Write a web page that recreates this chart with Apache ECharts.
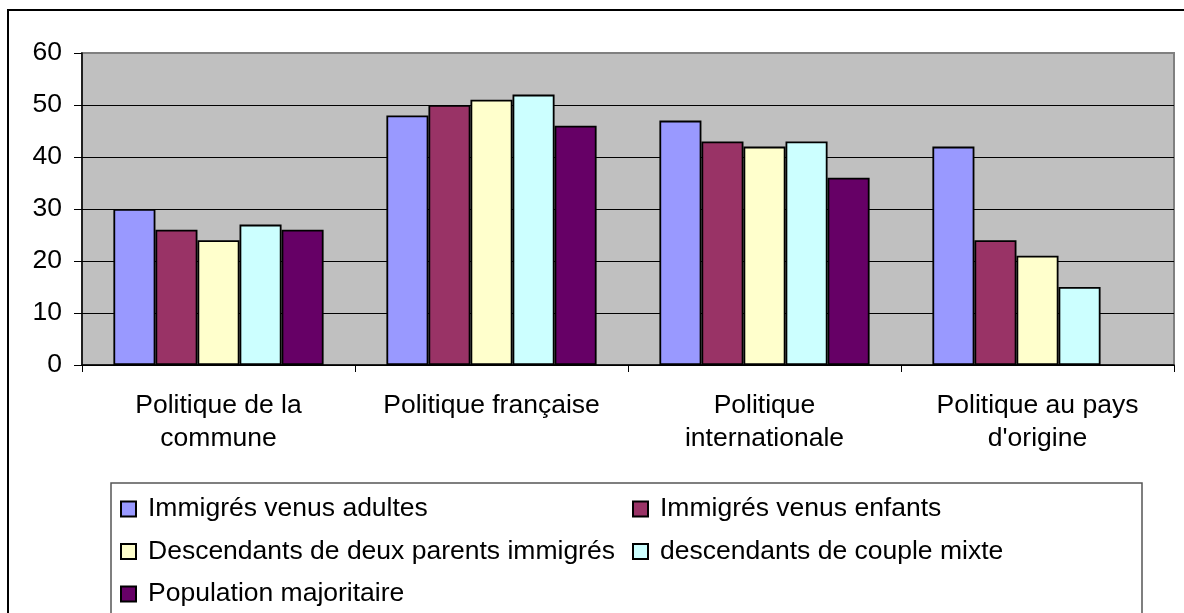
<!DOCTYPE html>
<html>
<head>
<meta charset="utf-8">
<script src="https://cdn.jsdelivr.net/npm/echarts@6/dist/echarts.min.js"></script>
<style>
  html, body { margin: 0; padding: 0; background: #fff; }
  #main { width: 1184px; height: 613px; }
</style>
</head>
<body>
<div id="main"></div>
<script>
var categories = ['Politique de la\ncommune', 'Politique française', 'Politique\ninternationale', 'Politique au pays\nd\'origine'];
var seriesNames = ['Immigrés venus adultes', 'Immigrés venus enfants', 'Descendants de deux parents immigrés', 'descendants de couple mixte', 'Population majoritaire'];
var adultes = [30, 48, 47, 42];
var enfants = [26, 50, 43, 24];
var deuxParents = [24, 51, 42, 21];
var coupleMixte = [27, 52, 43, 15];
var majoritaire = [26, 46, 36, null];
var colors = ['#9999FF', '#993366', '#FFFFCC', '#CCFFFF', '#660066'];

var values = [adultes, enfants, deuxParents, coupleMixte, majoritaire];
var font = 'Liberation Sans, Arial, sans-serif';

var myChart = echarts.init(document.getElementById('main'));

var series = seriesNames.map(function (name, i) {
    return {
        name: name,
        type: 'bar',
        data: values[i],
        barGap: '0%',
        barCategoryGap: '23%',
        itemStyle: {
            color: colors[i],
            borderColor: '#000',
            borderWidth: 1.8
        }
    };
});

var legendText = {
    fontFamily: font,
    fontSize: 26.5,
    color: '#000',
    lineHeight: 30,
    padding: [0, 0, 0, 7]
};

myChart.setOption({
    animation: false,
    color: colors,
    grid: {
        left: 82,
        right: 10,
        top: 53,
        bottom: 248,
        show: true,
        backgroundColor: '#C0C0C0',
        borderColor: '#808080',
        borderWidth: 2
    },
    legend: [{
        orient: 'vertical',
        left: 120,
        top: 494,
        height: 200,
        padding: 0,
        itemWidth: 15,
        itemHeight: 15,
        itemGap: 12.5,
        icon: 'rect',
        data: [seriesNames[0], seriesNames[2], seriesNames[4]],
        textStyle: legendText
    }, {
        orient: 'vertical',
        left: 632,
        top: 494,
        height: 200,
        padding: 0,
        itemWidth: 15,
        itemHeight: 15,
        itemGap: 12.5,
        icon: 'rect',
        data: [seriesNames[1], seriesNames[3]],
        textStyle: legendText
    }],
    xAxis: {
        type: 'category',
        data: categories,
        axisLine: { lineStyle: { color: '#000', width: 1.5 } },
        axisTick: { show: true, length: 7, lineStyle: { color: '#000' } },
        axisLabel: {
            fontFamily: font,
            fontSize: 26.5,
            color: '#000',
            margin: 24,
            lineHeight: 33,
            interval: 0
        }
    },
    yAxis: {
        type: 'value',
        min: 0,
        max: 60,
        interval: 10,
        axisLine: { show: true, lineStyle: { color: '#000', width: 1.5 } },
        axisTick: { show: true, length: 8, lineStyle: { color: '#000' } },
        axisLabel: {
            fontFamily: font,
            fontSize: 26.5,
            color: '#000',
            margin: 20
        },
        splitLine: {
            lineStyle: {
                color: ['#000', '#000', '#000', '#000', '#000', '#000', '#808080'],
                width: 1.2
            }
        }
    },
    graphic: [{
        type: 'rect',
        shape: { x: 8, y: 10, width: 1200, height: 700 },
        style: { fill: 'none', stroke: '#000', lineWidth: 2 },
        silent: true
    }, {
        type: 'rect',
        shape: { x: 111, y: 483, width: 1031, height: 200 },
        style: { fill: 'none', stroke: '#555', lineWidth: 1.5 },
        silent: true
    }],
    series: series
});
</script>
</body>
</html>
